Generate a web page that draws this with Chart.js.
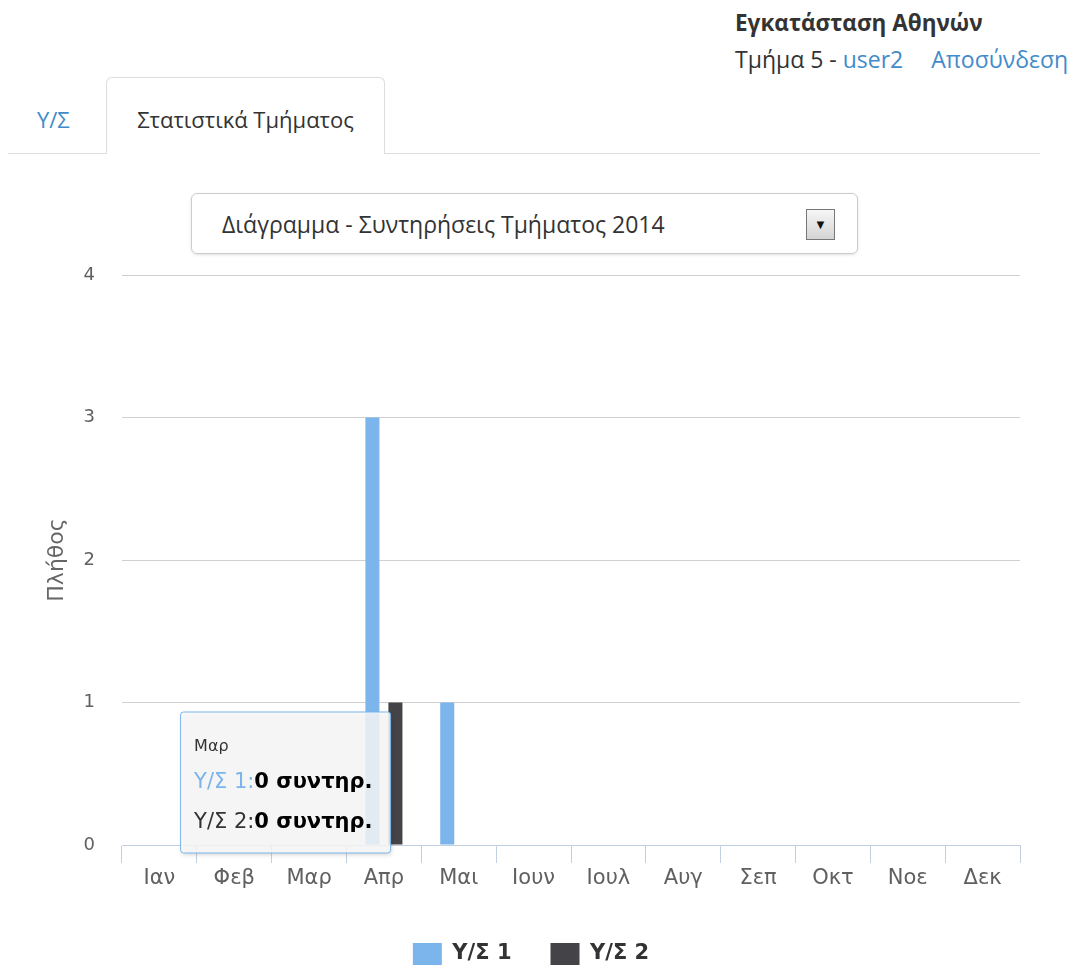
<!DOCTYPE html>
<html lang="el">
<head>
<meta charset="utf-8">
<title>Στατιστικά Τμήματος</title>
<script src="https://cdn.jsdelivr.net/npm/chart.js@4/dist/chart.umd.min.js"></script>
<style>
  body { margin: 0; width: 1070px; height: 972px; background: #fff; font-family: "Open Sans", sans-serif; color: #333; position: relative; overflow: hidden; }
  a { color: #428bca; text-decoration: none; }
  #inst { position: absolute; left: 735px; top: 7px; font-size: 22.5px; font-weight: bold; white-space: nowrap; }
  #user { position: absolute; left: 735px; top: 43px; font-size: 23px; white-space: nowrap; }
  #user .logout { margin-left: 28px; }
  #tabline { position: absolute; left: 8px; top: 153px; width: 1032px; height: 1px; background: #ddd; }
  #tab1 { position: absolute; left: 37px; top: 104px; font-size: 22px; }
  #tab2 { position: absolute; left: 106px; top: 77px; width: 279px; height: 77px; border: 1px solid #ddd; border-bottom: none; border-radius: 6px 6px 0 0; background: #fff; box-sizing: border-box; text-align: center; line-height: 82px; font-size: 22px; }
  #select { position: absolute; left: 191px; top: 193px; width: 667px; height: 61px; border: 1px solid #ccc; border-radius: 6px; box-sizing: border-box; box-shadow: 0 1px 3px rgba(0,0,0,0.12); font-size: 23px; line-height: 61px; padding-left: 30px; }
  #arrow { position: absolute; left: 614px; top: 15px; width: 29px; height: 31px; box-sizing: border-box; border: 1px solid #777; background: linear-gradient(#f6f6f6, #d4d4d4); font-size: 13px; line-height: 29px; text-align: center; color: #111; }
  #chartBox { position: absolute; left: 0; top: 255px; width: 1050px; height: 720px; }
</style>
</head>
<body>
<div id="inst">Εγκατάσταση Αθηνών</div>
<div id="user">Τμήμα 5 - <a>user2</a><a class="logout">Αποσύνδεση</a></div>
<div id="tabline"></div>
<a id="tab1">Υ/Σ</a>
<div id="tab2">Στατιστικά Τμήματος</div>
<div id="select">Διάγραμμα - Συντηρήσεις Τμήματος 2014<div id="arrow">&#9660;</div></div>
<div id="chartBox"><canvas id="chart"></canvas></div>
<script>
const months = ['Ιαν', 'Φεβ', 'Μαρ', 'Απρ', 'Μαι', 'Ιουν', 'Ιουλ', 'Αυγ', 'Σεπ', 'Οκτ', 'Νοε', 'Δεκ'];
const ys1 = [0, 0, 0, 3, 1, 0, 0, 0, 0, 0, 0, 0];
const ys2 = [0, 0, 0, 1, 0, 0, 0, 0, 0, 0, 0, 0];
const seriesNames = ['Υ/Σ 1', 'Υ/Σ 2'];
const yTicks = [0, 1, 2, 3, 4];
const tipIndex = 2; // hovered month shown in tooltip
const unit = 'συντηρ.';

// static tooltip like the one in the screenshot
const staticTip = {
    id: 'staticTip',
    afterDraw(chart) {
        const { ctx, scales: { x, y } } = chart;
        const left = x.getPixelForValue(tipIndex) - 129;
        const top = y.getPixelForValue(1) + 9;
        const w = 210, h = 141;
        ctx.save();
        ctx.beginPath();
        ctx.roundRect(left + 0.5, top + 0.5, w, h, 3);
        ctx.shadowColor = 'rgba(0,0,0,0.18)';
        ctx.shadowBlur = 4;
        ctx.shadowOffsetX = 1;
        ctx.shadowOffsetY = 2;
        ctx.fillStyle = 'rgba(249,249,249,0.85)';
        ctx.fill();
        ctx.shadowColor = 'transparent';
        ctx.strokeStyle = '#7cb5ec';
        ctx.lineWidth = 1;
        ctx.stroke();

        ctx.textBaseline = 'middle';
        ctx.fillStyle = '#333';
        ctx.font = '16px "DejaVu Sans"';
        ctx.fillText(months[tipIndex], left + 14, top + 35);

        const rows = [
            [seriesNames[0], ys1[tipIndex], '#7cb5ec'],
            [seriesNames[1], ys2[tipIndex], '#333333']
        ];
        rows.forEach((r, i) => {
            const ty = top + 71 + i * 40;
            ctx.font = '21px "DejaVu Sans"';
            ctx.fillStyle = r[2];
            const label = r[0] + ':';
            ctx.fillText(label, left + 14, ty);
            const lw = ctx.measureText(label).width;
            ctx.font = 'bold 21px "DejaVu Sans"';
            ctx.fillStyle = '#000';
            ctx.fillText(r[1] + ' ' + unit, left + 14 + lw, ty);
        });
        ctx.restore();
    }
};

new Chart(document.getElementById('chart'), {
    type: 'bar',
    data: {
        labels: months,
        datasets: [
            {
                label: seriesNames[0],
                data: ys1,
                backgroundColor: '#7cb5ec',
                categoryPercentage: 0.615,
                barPercentage: 0.61
            },
            {
                label: seriesNames[1],
                data: ys2,
                backgroundColor: '#434348',
                categoryPercentage: 0.615,
                barPercentage: 0.61
            }
        ]
    },
    options: {
        responsive: true,
        maintainAspectRatio: false,
        animation: false,
        events: [],
        layout: { padding: { left: 42, top: 3, right: 30, bottom: 0 } },
        plugins: {
            legend: {
                position: 'bottom',
                labels: {
                    boxWidth: 29,
                    boxHeight: 22,
                    padding: 39,
                    color: '#333',
                    font: { family: 'DejaVu Sans', size: 21, weight: 'bold' }
                }
            },
            tooltip: { enabled: false }
        },
        scales: {
            y: {
                min: yTicks[0],
                max: yTicks[yTicks.length - 1],
                afterBuildTicks: (scale) => { scale.ticks = yTicks.map(v => ({ value: v })); },
                afterFit: (scale) => {
                    scale.width = 80;
                    scale.paddingTop = 20;
                    scale.paddingBottom = 10;
                },
                ticks: {
                    color: '#606060',
                    padding: 4,
                    font: { family: 'DejaVu Sans', size: 18 }
                },
                grid: {
                    drawTicks: true,
                    tickLength: 23,
                    tickColor: 'rgba(0,0,0,0)',
                    color: (c) => c.tick && c.tick.value === 0 ? 'rgba(0,0,0,0)' : '#D0D0D0'
                },
                border: { display: false },
                title: {
                    display: true,
                    text: 'Πλήθος',
                    color: '#666',
                    padding: { top: 2, bottom: 0 },
                    font: { family: 'DejaVu Sans', size: 22 }
                }
            },
            x: {
                afterFit: (scale) => { scale.height = 59; },
                ticks: {
                    color: '#606060',
                    padding: 3,
                    font: { family: 'DejaVu Sans', size: 21 }
                },
                grid: {
                    offset: true,
                    drawOnChartArea: false,
                    tickLength: 18,
                    color: '#C0D0E0'
                },
                border: { color: '#C0D0E0', width: 1 }
            }
        }
    },
    plugins: [staticTip]
});
</script>
</body>
</html>
